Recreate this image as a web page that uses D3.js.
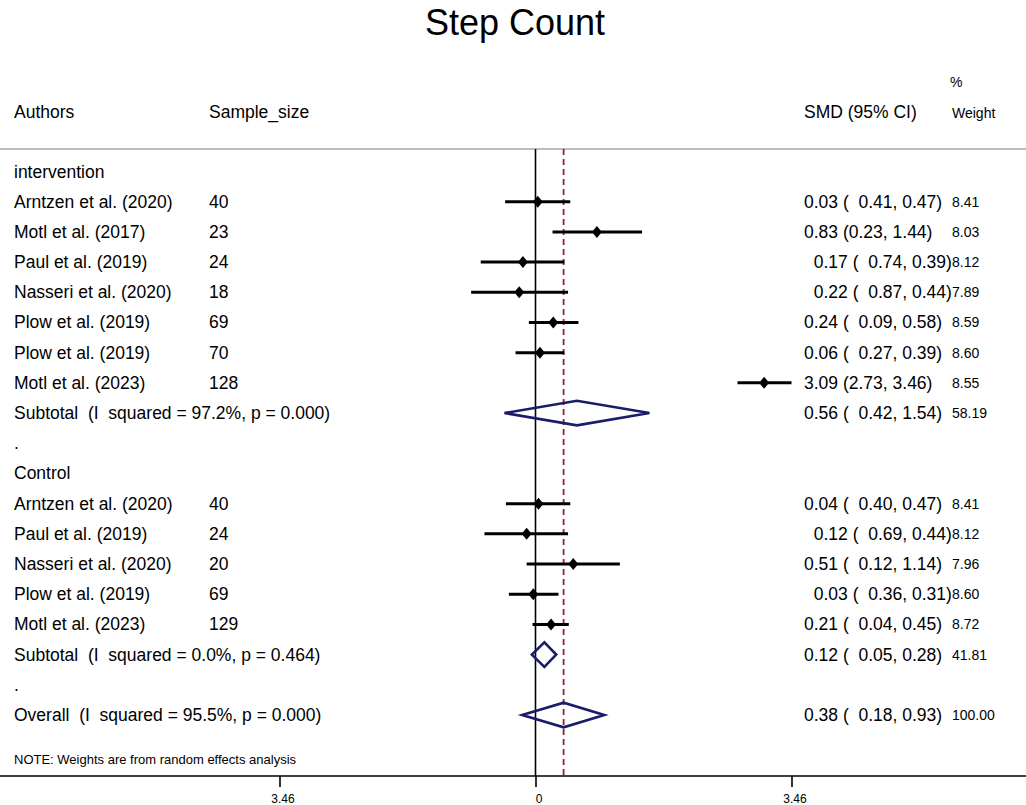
<!DOCTYPE html>
<html>
<head>
<meta charset="utf-8">
<script src="https://cdn.jsdelivr.net/npm/d3@7"></script>
<style>
  body { margin: 0; background: #fff; }
  svg { display: block; font-family: "Liberation Sans", Arial, sans-serif; }
  text { white-space: pre; }
</style>
</head>
<body>
<div id="chart-area"></div>
<script>
// --- Data ---
var groupNames = ["intervention", "Control"];
var studyGroup = [0, 0, 0, 0, 0, 0, 0, 1, 1, 1, 1, 1];
var authors = ["Arntzen et al. (2020)", "Motl et al. (2017)", "Paul et al. (2019)", "Nasseri et al. (2020)",
	"Plow et al. (2019)", "Plow et al. (2019)", "Motl et al. (2023)",
	"Arntzen et al. (2020)", "Paul et al. (2019)", "Nasseri et al. (2020)", "Plow et al. (2019)", "Motl et al. (2023)"];
var sampleSize = [40, 23, 24, 18, 69, 70, 128, 40, 24, 20, 69, 129];
var smd    = [0.03, 0.83, -0.17, -0.22, 0.24, 0.06, 3.09, 0.04, -0.12, 0.51, -0.03, 0.21];
var ciLow  = [-0.41, 0.23, -0.74, -0.87, -0.09, -0.27, 2.73, -0.40, -0.69, -0.12, -0.36, -0.04];
var ciHigh = [0.47, 1.44, 0.39, 0.44, 0.58, 0.39, 3.46, 0.47, 0.44, 1.14, 0.31, 0.45];
var weights = ["8.41", "8.03", "8.12", "7.89", "8.59", "8.60", "8.55", "8.41", "8.12", "7.96", "8.60", "8.72"];

var subtotalLabels = ["Subtotal  (I  squared = 97.2%, p = 0.000)", "Subtotal  (I  squared = 0.0%, p = 0.464)"];
var subtotalSmd = [0.56, 0.12];
var subtotalLow = [-0.42, -0.05];
var subtotalHigh = [1.54, 0.28];
var subtotalWeights = ["58.19", "41.81"];

var overallLabel = "Overall  (I  squared = 95.5%, p = 0.000)";
var overallSmd = 0.38;
var overallLow = -0.18;
var overallHigh = 0.93;
var overallWeight = "100.00";

var tickValues = [-3.46, 0, 3.46];

// --- Setup the canvas ---
var canvasWidth = 1026;
var canvasHeight = 805;
var canvas = d3.select("#chart-area").append("svg")
	.attr("width", canvasWidth)
	.attr("height", canvasHeight);

var rowFont = 17.5;
var smallFont = 14;
var colAuthor = 14, colSample = 209, colSmd = 804, colWeight = 952;
var plotTop = 149, plotBottom = 776;

// --- Scales ---
var xScale = d3.scaleLinear().domain([-3.46, 3.46]).range([279.5, 791.5]);
var yScale = d3.scaleLinear().domain([0, 18]).range([171.5, 715]);

// minus signs are missing in the original, only their space is left
function fmt(v) { return (v < 0 ? "\u2007" : "") + Math.abs(v).toFixed(2); }
function ciText(e, l, h) { return fmt(e) + " (" + fmt(l) + ", " + fmt(h) + ")"; }

// --- Build rows ---
var rows = [];
var studyRows = [];
var summaryRows = [];
var r = 0;
groupNames.forEach((g, gi) => {
	rows.push({ y: r++, label: g });
	studyGroup.forEach((sg, i) => {
		if (sg !== gi) return;
		var row = { y: r++, label: authors[i], n: sampleSize[i], est: smd[i], lo: ciLow[i], hi: ciHigh[i], w: weights[i] };
		rows.push(row);
		studyRows.push(row);
	});
	var sub = { y: r++, label: subtotalLabels[gi], est: subtotalSmd[gi], lo: subtotalLow[gi], hi: subtotalHigh[gi], w: subtotalWeights[gi] };
	rows.push(sub);
	summaryRows.push(sub);
	rows.push({ y: r++, label: "." });
});
var overall = { y: r, label: overallLabel, est: overallSmd, lo: overallLow, hi: overallHigh, w: overallWeight };
rows.push(overall);
summaryRows.push(overall);

// --- Title & headers ---
canvas.append("text")
	.text("Step Count")
	.attr("x", 515)
	.attr("y", 35)
	.attr("text-anchor", "middle")
	.attr("font-size", "36px");

var headers = [["Authors", colAuthor, rowFont], ["Sample_size", colSample, rowFont], ["SMD (95% CI)", colSmd, rowFont], ["Weight", colWeight, smallFont]];
headers.forEach((h) => {
	canvas.append("text").text(h[0])
		.attr("x", h[1]).attr("y", 118)
		.attr("font-size", h[2] + "px");
});
canvas.append("text").text("%")
	.attr("x", colWeight - 2).attr("y", 87)
	.attr("font-size", smallFont + "px");

// --- Reference lines ---
canvas.append("line")
	.attr("x1", 0).attr("x2", canvasWidth)
	.attr("y1", plotTop).attr("y2", plotTop)
	.attr("stroke", "#bdbdbd").attr("stroke-width", 2);

canvas.append("line")
	.attr("x1", xScale(0)).attr("x2", xScale(0))
	.attr("y1", plotTop).attr("y2", plotBottom)
	.attr("stroke", "#000").attr("stroke-width", 1.6);

canvas.append("line")
	.attr("x1", xScale(overallSmd)).attr("x2", xScale(overallSmd))
	.attr("y1", plotTop).attr("y2", plotBottom)
	.attr("stroke", "#8c2237").attr("stroke-width", 1.8)
	.attr("stroke-dasharray", "6,4");

// --- Text columns ---
var textRows = canvas.append("g").selectAll("g").data(rows).enter().append("g")
	.attr("transform", (d) => { return "translate(0," + yScale(d.y) + ")"; });

textRows.append("text")
	.attr("x", colAuthor)
	.attr("y", 6)
	.attr("font-size", rowFont + "px")
	.text((d) => { return d.label; });

textRows.filter((d) => { return d.n !== undefined; }).append("text")
	.attr("x", colSample)
	.attr("y", 6)
	.attr("font-size", rowFont + "px")
	.text((d) => { return d.n; });

textRows.filter((d) => { return d.est !== undefined; }).append("text")
	.attr("x", colSmd)
	.attr("y", 6)
	.attr("font-size", rowFont + "px")
	.text((d) => { return ciText(d.est, d.lo, d.hi); });

textRows.filter((d) => { return d.w !== undefined; }).append("text")
	.attr("x", colWeight)
	.attr("y", 5)
	.attr("font-size", smallFont + "px")
	.text((d) => { return d.w; });

// --- Study CIs and point estimates ---
var marks = canvas.append("g");
marks.selectAll("line.ci").data(studyRows).enter().append("line")
	.attr("class", "ci")
	.attr("x1", (d) => { return xScale(d.lo); })
	.attr("x2", (d) => { return xScale(d.hi); })
	.attr("y1", (d) => { return yScale(d.y); })
	.attr("y2", (d) => { return yScale(d.y); })
	.attr("stroke", "#000").attr("stroke-width", 3);

marks.selectAll("path.pt").data(studyRows).enter().append("path")
	.attr("class", "pt")
	.attr("d", (d) => {
		var cx = xScale(d.est), cy = yScale(d.y);
		return "M" + (cx - 5) + "," + cy + "L" + cx + "," + (cy - 6) + "L" + (cx + 5) + "," + cy + "L" + cx + "," + (cy + 6) + "Z";
	})
	.attr("fill", "#000");

// --- Pooled diamonds ---
marks.selectAll("path.pool").data(summaryRows).enter().append("path")
	.attr("class", "pool")
	.attr("d", (d) => {
		var cy = yScale(d.y), h = 12.3;
		return "M" + xScale(d.lo) + "," + cy + "L" + xScale(d.est) + "," + (cy - h) +
			"L" + xScale(d.hi) + "," + cy + "L" + xScale(d.est) + "," + (cy + h) + "Z";
	})
	.attr("fill", "none")
	.attr("stroke", "#1b1b6b").attr("stroke-width", 2.6)
	.attr("stroke-linejoin", "miter");

// --- Note ---
canvas.append("text")
	.text("NOTE: Weights are from random effects analysis")
	.attr("x", colAuthor)
	.attr("y", 764)
	.attr("font-size", "13px");

// --- X axis ---
canvas.append("line")
	.attr("x1", 0).attr("x2", canvasWidth)
	.attr("y1", plotBottom).attr("y2", plotBottom)
	.attr("stroke", "#000").attr("stroke-width", 1.6);

var xAxis = d3.axisBottom(xScale)
	.tickValues(tickValues)
	.tickSize(11)
	.tickPadding(7.5)
	.tickFormat((d) => { return d === 0 ? "0" : d3.format(".2f")(Math.abs(d)); });

var xAxisGroup = canvas.append("g")
	.attr("transform", "translate(0," + plotBottom + ")")
	.call(xAxis);
xAxisGroup.select(".domain").remove();
xAxisGroup.selectAll(".tick line").attr("stroke", "#000").attr("stroke-width", 1.6);
xAxisGroup.selectAll(".tick text")
	.attr("dx", 3)
	.attr("font-family", "'Liberation Sans', Arial, sans-serif")
	.attr("font-size", "12px")
	.attr("fill", "#000");
</script>
</body>
</html>
